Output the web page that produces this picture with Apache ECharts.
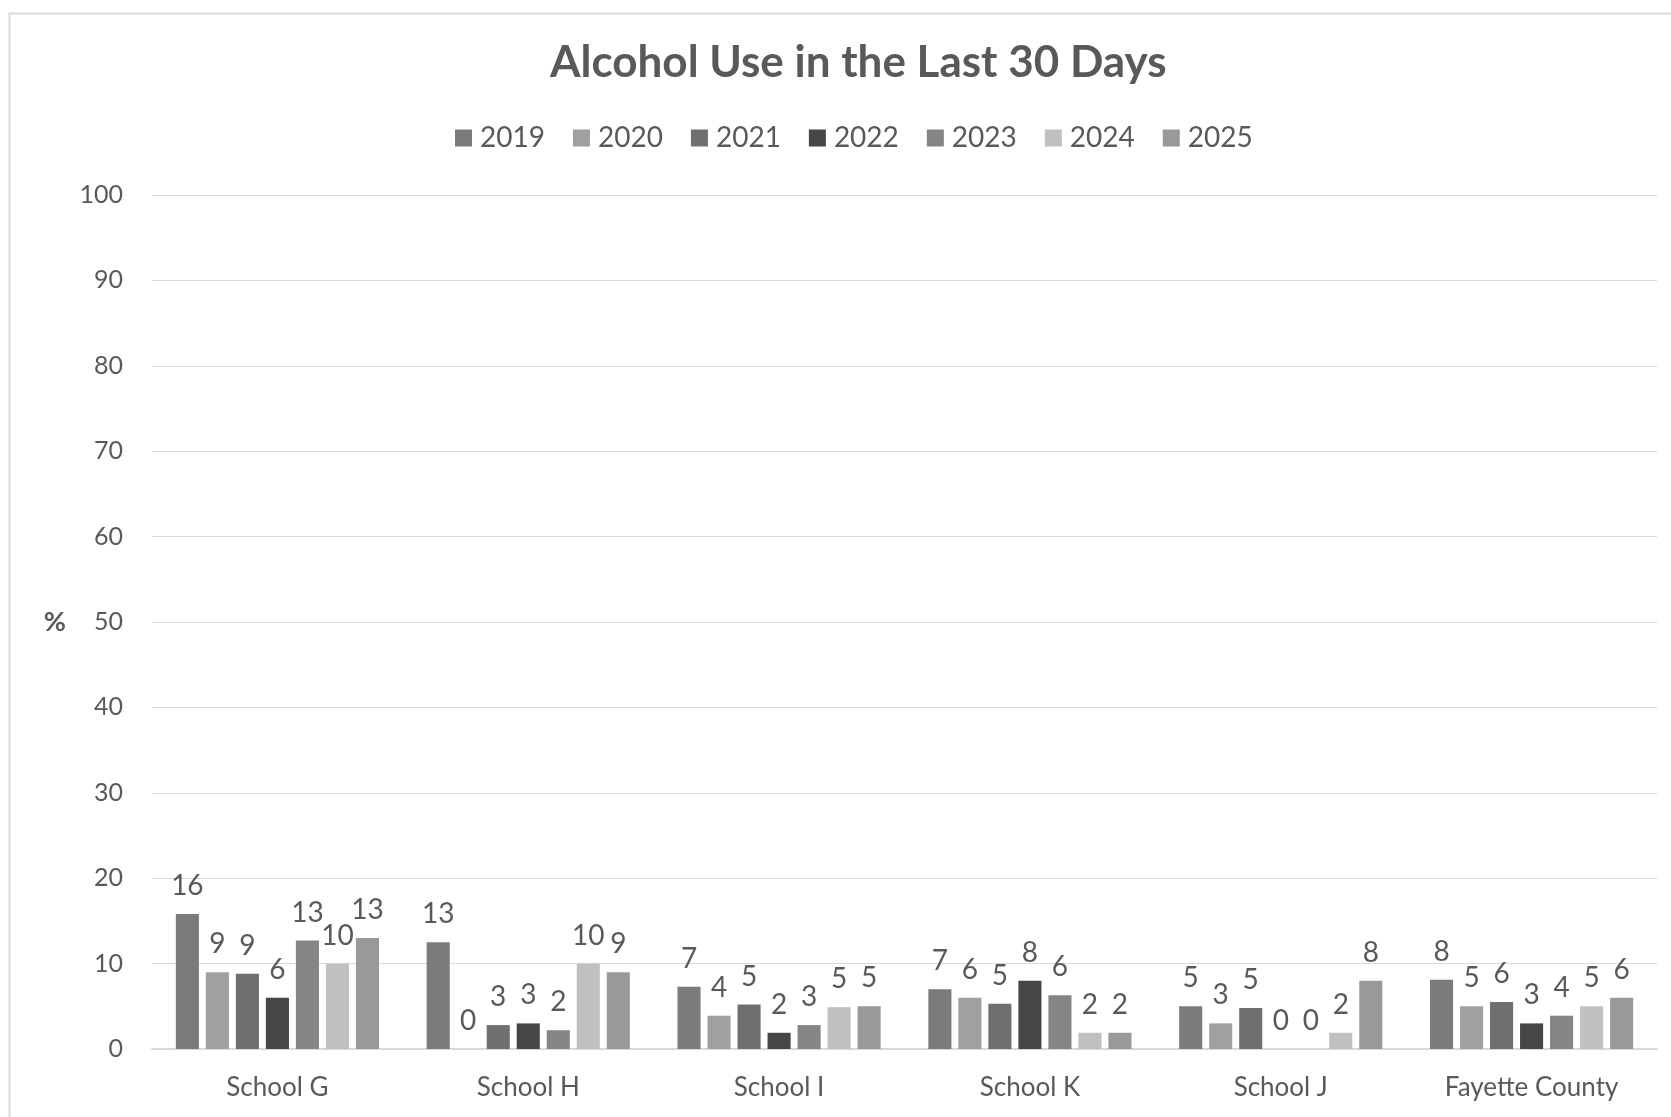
<!DOCTYPE html>
<html>
<head>
<meta charset="utf-8">
<title>Alcohol Use in the Last 30 Days</title>
<script src="https://cdn.jsdelivr.net/npm/echarts@6/dist/echarts.min.js"></script>
<style>
  html, body { margin: 0; padding: 0; background: #fff; }
  #chart { width: 1671px; height: 1117px; }
</style>
</head>
<body>
<div id="chart"></div>
<script>
// categories and series
var schools = ['School G', 'School H', 'School I', 'School K', 'School J', 'Fayette County'];
var years = ['2019', '2020', '2021', '2022', '2023', '2024', '2025'];

var y2019 = [15.8, 12.5, 7.3, 7.0, 5.0, 8.1];
var y2020 = [9.0, 0, 3.9, 6.0, 3.0, 5.0];
var y2021 = [8.8, 2.8, 5.2, 5.3, 4.8, 5.5];
var y2022 = [6.0, 3.0, 1.9, 8.0, 0, 3.0];
var y2023 = [12.7, 2.2, 2.8, 6.3, 0, 3.9];
var y2024 = [10.0, 10.0, 4.9, 1.9, 1.9, 5.0];
var y2025 = [13.0, 9.0, 5.0, 1.9, 8.0, 6.0];

var yearColors = ['#7b7b7b', '#a0a0a0', '#6f6f6f', '#464646', '#858585', '#c0c0c0', '#999999'];

var textColor = '#595959';
var fontName = 'Lato';

var allValues = [y2019, y2020, y2021, y2022, y2023, y2024, y2025];

var chart = echarts.init(document.getElementById('chart'));

var series = [];
for (var i = 0; i < years.length; i++) {
  series.push({
    name: years[i],
    type: 'bar',
    data: allValues[i],
    barGap: '30%',
    barCategoryGap: '19%',
    itemStyle: { color: yearColors[i] },
    label: {
      show: true,
      position: 'top',
      distance: 14,
      color: textColor,
      fontFamily: fontName,
      fontSize: 28,
      formatter: function (p) { return Math.round(p.value); }
    }
  });
}

var option = {
  backgroundColor: '#fff',
  animation: false,
  textStyle: { fontFamily: fontName },
  title: {
    text: 'Alcohol Use in the Last 30 Days',
    left: 545,
    top: 36,
    textStyle: {
      color: textColor,
      fontFamily: fontName,
      fontWeight: 'bold',
      fontSize: 44
    }
  },
  legend: {
    data: years,
    left: 450,
    top: 119,
    itemWidth: 17,
    itemHeight: 17,
    itemGap: 28,
    icon: 'rect',
    textStyle: { color: textColor, fontFamily: fontName, fontSize: 28, padding: [0, 0, 0, 3] }
  },
  grid: {
    left: 152,
    right: 14,
    top: 195,
    bottom: 68
  },
  xAxis: {
    type: 'category',
    data: schools,
    axisLine: { lineStyle: { color: '#d9d9d9', width: 2 } },
    axisTick: { show: false },
    axisLabel: { color: textColor, fontFamily: fontName, fontSize: 26, margin: 26 }
  },
  yAxis: {
    type: 'value',
    min: 0,
    max: 100,
    interval: 10,
    name: '%',
    nameLocation: 'middle',
    nameRotate: 0,
    nameGap: 86,
    nameTextStyle: { color: textColor, fontFamily: fontName, fontSize: 27, fontWeight: 'bold' },
    axisLine: { show: false },
    axisTick: { show: false },
    axisLabel: { color: textColor, fontFamily: fontName, fontSize: 25, margin: 29 },
    splitLine: { lineStyle: { color: '#d9d9d9', width: 1 } }
  },
  graphic: [{
    type: 'rect',
    left: 7,
    top: 11,
    shape: { width: 1700, height: 1200 },
    style: { fill: 'none', stroke: '#d9d9d9', lineWidth: 2 },
    silent: true
  }],
  series: series
};

chart.setOption(option);
</script>
</body>
</html>
